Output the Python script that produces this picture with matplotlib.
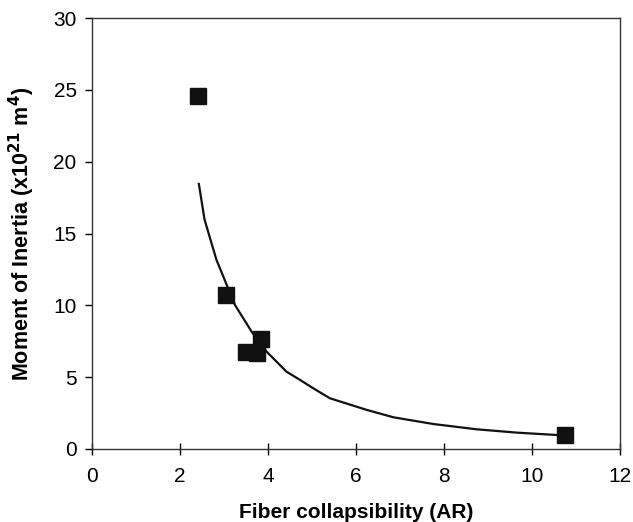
import matplotlib
matplotlib.use("Agg")
import matplotlib.pyplot as plt

plt.rcParams['font.family'] = ['Liberation Sans', 'DejaVu Sans']

# Measured data points
ar = [2.41, 3.04, 3.84, 3.51, 3.75, 10.75]
inertia = [24.57, 10.72, 7.65, 6.73, 6.66, 1.0]

# Trend curve
curve_x = [2.43, 2.56, 2.83, 3.25, 3.63, 3.97, 4.42, 4.73, 5.03, 5.41, 6.25, 6.85, 7.76, 8.75, 9.66, 10.54, 10.75]
curve_y = [18.45, 15.96, 13.17, 10.03, 8.17, 6.78, 5.39, 4.81, 4.23, 3.53, 2.72, 2.21, 1.74, 1.37, 1.14, 0.98, 0.95]

xticks = [0, 2, 4, 6, 8, 10, 12]
yticks = [0, 5, 10, 15, 20, 25, 30]

fig = plt.figure(figsize=(6.33, 5.22), dpi=100)
ax = fig.add_axes([92/633, 1-449/522, (619.7-92)/633, (449-18)/522])

ax.plot(curve_x, curve_y, color='#111111', lw=1.6, zorder=2)
ax.plot(ar, inertia, linestyle='none', marker='s', markersize=12,
        color='#111111', zorder=3, clip_on=False)

ax.set_xlim(0, 12)
ax.set_ylim(0, 30)
ax.set_xticks(xticks)
ax.set_yticks(yticks)
ax.tick_params(axis='x', direction='inout', length=8, width=1, labelsize=15, pad=9)
ax.tick_params(axis='y', direction='out', length=5, width=1, labelsize=15, pad=6)
for s in ax.spines.values():
    s.set_linewidth(1)
    s.set_color('#333333')

ax.set_xlabel('Fiber collapsibility (AR)', fontsize=15, fontweight='bold', labelpad=12)
ax.set_ylabel(r'Moment of Inertia (x10$^{\mathbf{21}}$ m$^{\mathbf{4}}$)', fontsize=15.5,
              fontweight='bold', labelpad=12)

fig.savefig('out.png', dpi=100)
